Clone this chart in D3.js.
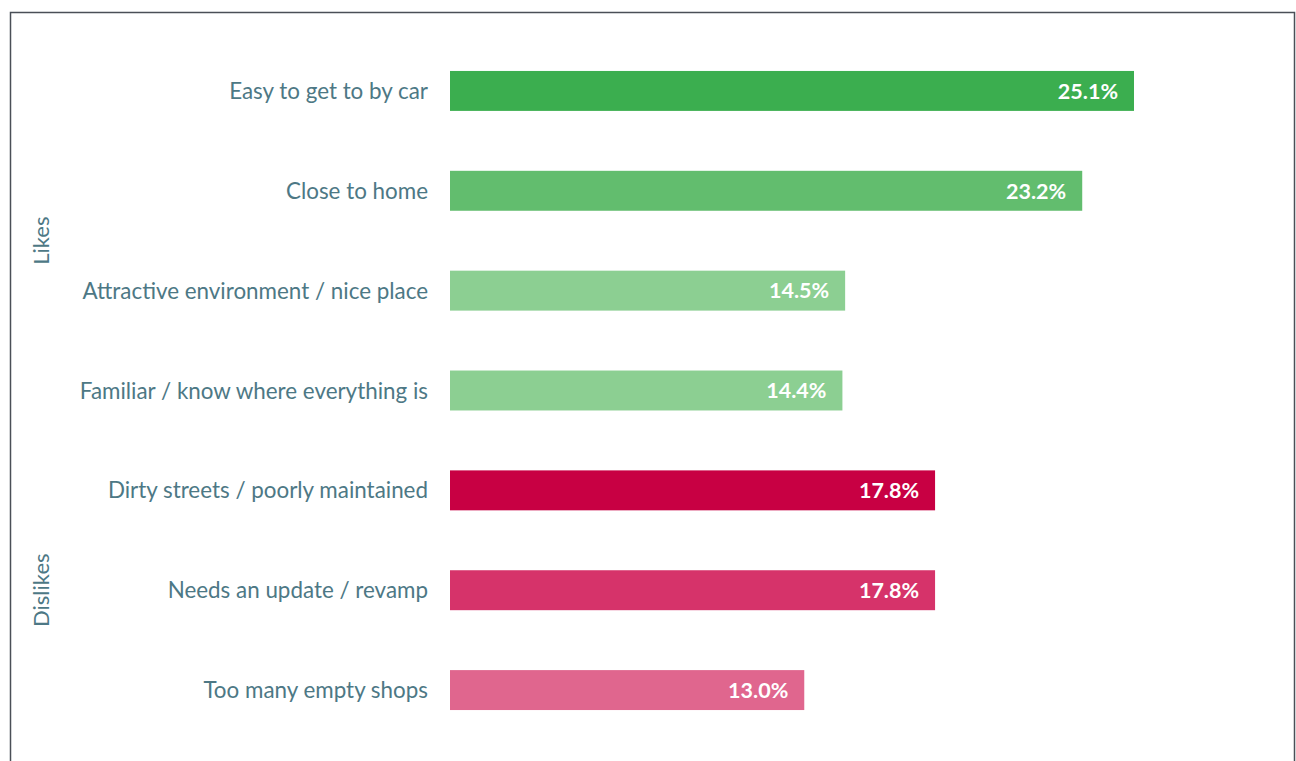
<!DOCTYPE html>
<html>
<head>
<meta charset="utf-8">
<script src="https://cdn.jsdelivr.net/npm/d3@7"></script>
<style>
  html, body { margin: 0; padding: 0; background: #ffffff; }
  svg { display: block; }
</style>
</head>
<body>
<svg id="chart" width="1296" height="761"></svg>
<script>
// Survey responses: what people like and dislike about the town centre
const categories = [
  "Easy to get to by car",
  "Close to home",
  "Attractive environment / nice place",
  "Familiar / know where everything is",
  "Dirty streets / poorly maintained",
  "Needs an update / revamp",
  "Too many empty shops"
];
const values = [25.1, 23.2, 14.5, 14.4, 17.8, 17.8, 13.0];
const groups = ["Likes", "Likes", "Likes", "Likes", "Dislikes", "Dislikes", "Dislikes"];
const barColors = ["#3bae4f", "#62bd6e", "#8ccf92", "#8ccf92", "#c80043", "#d6336a", "#e0668e"];
const groupNames = ["Likes", "Dislikes"];

const svg = d3.select("#chart");

const labelColor = "#4d7885";
const fontFamily = "Lato, 'Open Sans', sans-serif";

// Outer frame
svg.append("rect")
  .attr("x", 10.5).attr("y", 12.5)
  .attr("width", 1284).attr("height", 760)
  .attr("fill", "none")
  .attr("stroke", "#4a4f57")
  .attr("stroke-width", 1.5);

// Scales
const x = d3.scaleLinear().domain([0, 25.1]).range([450, 1134]);
const y = d3.scaleBand()
  .domain(categories)
  .range([41, 740])
  .paddingInner(0.6)
  .paddingOuter(0.3);

const rows = categories.map((c, i) => ({ cat: c, val: values[i], grp: groups[i], col: barColors[i] }));

// Bars
svg.append("g").selectAll("rect")
  .data(rows)
  .join("rect")
  .attr("x", x(0))
  .attr("y", d => y(d.cat))
  .attr("width", d => x(d.val) - x(0))
  .attr("height", y.bandwidth())
  .attr("fill", d => d.col);

// Value labels inside the bars
svg.append("g").selectAll("text")
  .data(rows)
  .join("text")
  .attr("x", d => x(d.val) - 16)
  .attr("y", d => y(d.cat) + y.bandwidth() / 2)
  .attr("dy", "0.36em")
  .attr("text-anchor", "end")
  .attr("fill", "#ffffff")
  .attr("font-family", fontFamily)
  .attr("font-weight", "bold")
  .attr("font-size", 21.5)
  .text(d => d.val.toFixed(1) + "%");

// Category labels
svg.append("g").selectAll("text")
  .data(rows)
  .join("text")
  .attr("x", 428)
  .attr("y", d => y(d.cat) + y.bandwidth() / 2)
  .attr("dy", "0.36em")
  .attr("text-anchor", "end")
  .attr("fill", labelColor)
  .attr("font-family", fontFamily)
  .attr("font-size", 22.4)
  .text(d => d.cat);

// Group labels, rotated, centred on each group's rows
groupNames.forEach(g => {
  const members = rows.filter(r => r.grp === g);
  const top = y(members[0].cat);
  const bottom = y(members[members.length - 1].cat) + y.bandwidth();
  const cy = (top + bottom) / 2;
  svg.append("text")
    .attr("transform", `translate(41,${cy}) rotate(-90)`)
    .attr("text-anchor", "middle")
    .attr("dy", "0.36em")
    .attr("fill", labelColor)
    .attr("font-family", fontFamily)
    .attr("font-size", 22)
    .text(g);
});
</script>
</body>
</html>
